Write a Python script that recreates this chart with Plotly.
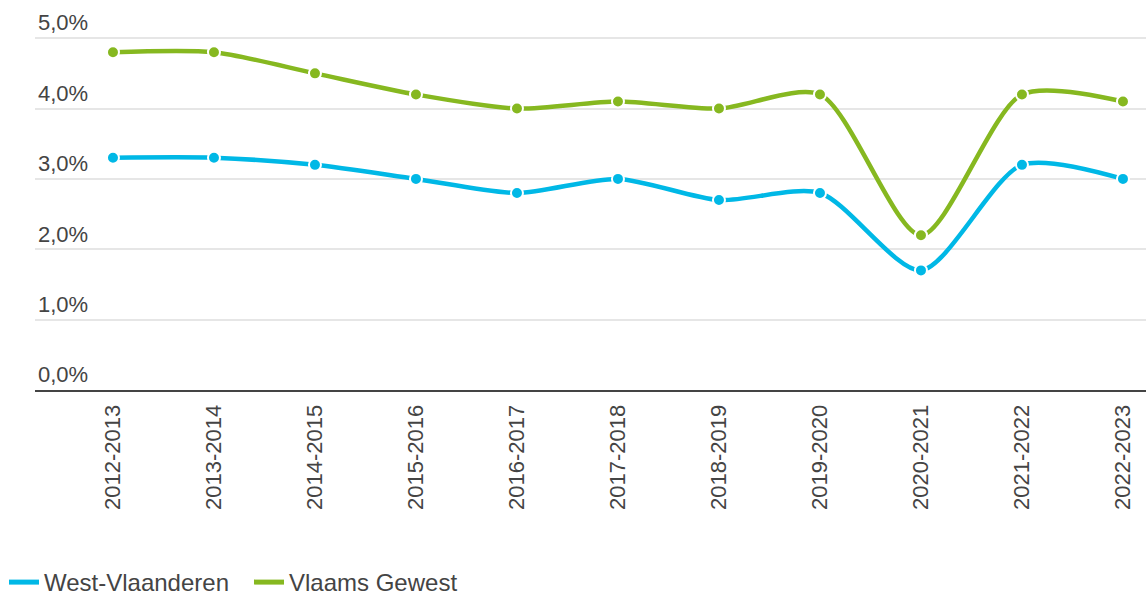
import plotly.graph_objects as go

categories = ["2012-2013", "2013-2014", "2014-2015", "2015-2016", "2016-2017",
              "2017-2018", "2018-2019", "2019-2020", "2020-2021", "2021-2022", "2022-2023"]
west_vlaanderen = [3.3, 3.3, 3.2, 3.0, 2.8, 3.0, 2.7, 2.8, 1.7, 3.2, 3.0]
vlaams_gewest = [4.8, 4.8, 4.5, 4.2, 4.0, 4.1, 4.0, 4.2, 2.2, 4.2, 4.1]
y_ticks = [0, 1, 2, 3, 4, 5]
y_tick_labels = ["0,0%", "1,0%", "2,0%", "3,0%", "4,0%", "5,0%"]

BLUE = "#00b8e6"
GREEN = "#86b820"
FONT = "Arial, Liberation Sans, sans-serif"
TXT = "#444444"

fig = go.Figure()
for name, vals, col in [("West-Vlaanderen", west_vlaanderen, BLUE),
                        ("Vlaams Gewest", vlaams_gewest, GREEN)]:
    fig.add_trace(go.Scatter(
        x=categories, y=vals, mode="lines+markers", name=name,
        line=dict(color=col, width=4.5, shape="spline", smoothing=0.75),
        marker=dict(size=12, color=col, line=dict(color="white", width=2)),
        showlegend=False,
    ))
for name, col in [("West-Vlaanderen", BLUE), ("Vlaams Gewest", GREEN)]:
    fig.add_trace(go.Scatter(
        x=[None], y=[None], mode="lines", name=name,
        line=dict(color=col, width=5), showlegend=True,
    ))

fig.update_layout(
    width=1146, height=595,
    margin=dict(l=35, r=0, t=3, b=205),
    paper_bgcolor="white", plot_bgcolor="white",
    font=dict(family=FONT, size=22, color=TXT),
    showlegend=True,
    legend=dict(orientation="h", xref="container", yref="container",
                x=0.0035, y=0.021, xanchor="left", yanchor="middle",
                font=dict(size=24, color=TXT), itemwidth=30,
                entrywidth=200, entrywidthmode="pixels",
                bgcolor="rgba(0,0,0,0)"),
    hovermode=False,
)
fig.update_xaxes(
    type="category", range=[-0.772, 10.228],
    tickangle=-90, tickfont=dict(size=22, color=TXT, family=FONT),
    showgrid=False, showline=True, linecolor="#444444", linewidth=2,
    ticks="", ticklabelstandoff=4, zeroline=False,
)
fig.update_yaxes(
    range=[0, 5.5], tickvals=y_ticks, ticktext=y_tick_labels,
    ticklabelposition="inside top", tickfont=dict(size=22, color=TXT, family=FONT),
    showgrid=True, gridcolor="#e6e6e6", gridwidth=2, zeroline=False,
    showline=False, ticks="", ticklabelstandoff=0,
)

fig.write_html("out.html", config={"displayModeBar": False},
               post_script="document.body.style.margin='0px';")
